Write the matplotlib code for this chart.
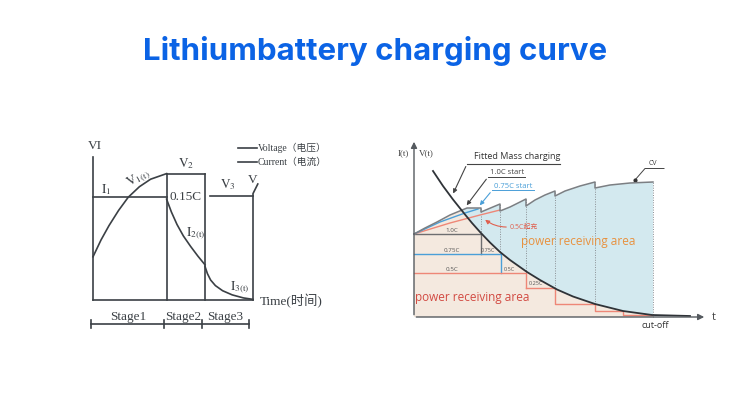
import matplotlib
matplotlib.use("Agg")
import matplotlib.pyplot as plt
from matplotlib.patches import Polygon

plt.rcParams["mathtext.fontset"] = "stix"

# ========= DATA =========
TITLE = "Lithiumbattery charging curve"

# left diagram: three stage CC / CV charging (time units, level units)
stage_ends = [0.0, 4.6, 7.0, 10.0]
i1_level = 6.45
v2_level = 7.9
v3_level = 6.5
v3_start = 7.3
v1_t = [0, 0.5, 1.0, 1.6, 2.2, 2.9, 3.6, 4.6]
v1_v = [2.7, 3.75, 4.65, 5.6, 6.42, 7.08, 7.55, 7.9]
i2_t = [4.6, 4.9, 5.25, 5.65, 6.1, 6.55, 7.0]
i2_v = [6.3, 5.5, 4.72, 4.0, 3.35, 2.75, 2.2]
i3_t = [7.0, 7.15, 7.35, 7.65, 8.1, 8.7, 9.4, 10.0]
i3_v = [2.1, 1.65, 1.25, 0.9, 0.58, 0.32, 0.13, 0.04]
stage_names = ["Stage1", "Stage2", "Stage3"]
bracket_ticks = [-0.1, 4.45, 6.8, 9.75]

# right diagram: multi-rate charging
fit_t = [1.9, 2.9, 3.9, 4.5, 5.1, 5.8, 6.6, 7.6, 8.6, 9.6, 11.3, 12.6, 14.3, 15.9, 18.1, 20.9, 23.8, 27.6]
fit_v = [14.6, 13.1, 11.75, 11.0, 10.25, 9.4, 8.5, 7.45, 6.5, 5.7, 4.5, 3.7, 2.75, 2.05, 1.3, 0.6, 0.2, 0.1]
cv_t = [0, 1.1, 2.3, 3.6, 5.3, 6.7, 6.7, 8.6, 8.6, 9.6, 10.6, 11.2, 11.2, 12.1, 13.1,
        14.1, 14.1, 15.1, 16.6, 18.1, 18.1, 19.6, 21.6, 23.9]
cv_v = [8.3, 8.9, 9.5, 10.2, 10.9, 10.9, 10.5, 11.3, 10.6, 11.0, 11.5, 11.8, 11.1, 11.7, 12.2,
        12.6, 12.1, 12.6, 13.1, 13.5, 12.9, 13.2, 13.4, 13.5]
blue_start_t = [0, 2.6, 5.1, 6.4]
blue_start_v = [8.3, 9.5, 10.4, 10.8]
red_start_t = [0, 3.6, 6.6, 8.6]
red_start_v = [8.3, 9.4, 10.2, 10.7]
rate_names = ["1.0C", "0.75C", "0.5C"]
rate_levels = [8.3, 6.3, 4.4]
rate_ends = [6.7, 8.7, 11.2]
tail_t = [11.2, 14.1, 18.1, 20.9, 23.8]
tail_v = [2.9, 1.3, 0.6, 0.2]
dot_t = [6.7, 8.6, 11.2, 14.1, 18.1, 23.9]
dot_top = [10.9, 11.3, 11.8, 12.6, 13.5, 13.5]
dot_bottom = [8.3, 6.3, 4.4, 2.9, 1.3, 0.0]
# ========================

INK = "#3b4045"
GRAY = "#6d6e70"
BLUE = "#4a9fd8"
RED = "#ee8777"
SERIF = ["Liberation Serif", "Noto Sans CJK SC"]
SANS = ["Open Sans", "Noto Sans CJK SC"]
PANEL = "#f8f9fa"

W, H = 750, 397
fig = plt.figure(figsize=(7.5, 3.97), dpi=100)
fig.patch.set_facecolor("white")


def box(x0, y0, x1, y1):
    # pixel box (image coords) -> figure fraction
    return [x0 / W, 1 - y1 / H, (x1 - x0) / W, (y1 - y0) / H]


fig.text(0.5, 1 - 60 / H, TITLE, ha="center", va="baseline", fontsize=22.5,
         fontweight="bold", color="#0b63e5", family="Inter")

# ---------- left panel ----------
ax = fig.add_axes(box(47, 121, 337, 355))
ax.set_facecolor(PANEL)
ax.set_xlim(-2.875, 15.25)
ax.set_ylim(-3.4375, 11.1875)
ax.axis("off")
ax.patch.set_visible(True)

lw = 1.2
ax.plot([0, 0], [0, 8.95], color=INK, lw=lw)
ax.plot([0, stage_ends[-1]], [0, 0], color=INK, lw=lw)
ax.plot([0, stage_ends[1]], [i1_level, i1_level], color=INK, lw=lw)
ax.plot(v1_t, v1_v, color=INK, lw=lw)
ax.plot([stage_ends[1], stage_ends[1]], [0, v2_level], color=INK, lw=lw)
ax.plot([stage_ends[2], stage_ends[2]], [0, v2_level], color=INK, lw=lw)
ax.plot([stage_ends[1], stage_ends[2]], [v2_level, v2_level], color=INK, lw=lw)
ax.plot(i2_t, i2_v, color=INK, lw=lw)
ax.plot(i3_t, i3_v, color=INK, lw=lw)
ax.plot([v3_start, stage_ends[3]], [v3_level, v3_level], color=INK, lw=lw)
ax.plot([stage_ends[3], stage_ends[3], stage_ends[3] + 0.3], [0, v3_level + 0.15, v3_level + 0.75],
        color=INK, lw=lw)

# legend
ax.plot([9.05, 10.25], [9.5, 9.5], color=INK, lw=lw)
ax.plot([9.05, 10.25], [8.62, 8.62], color=INK, lw=lw)
ax.text(10.3, 9.5, "Voltage（电压）", va="center", fontsize=7, color=INK, family=SERIF)
ax.text(10.3, 8.62, "Current（电流）", va="center", fontsize=7, color=INK, family=SERIF)

tk = dict(color=INK, family=SERIF, fontsize=9.5)
ax.text(0.1, 9.6, "VI", ha="center", va="center", **tk)
ax.text(5.8, 8.55, r"$\mathrm{V_2}$", ha="center", va="center", **tk)
ax.text(0.85, 6.9, r"$\mathrm{I_1}$", ha="center", va="center", **tk)
ax.text(2.8, 7.6, r"$\mathrm{V_{1(t)}}$", ha="center", va="center", rotation=28, **tk)
ax.text(5.8, 6.42, "0.15C", ha="center", va="center", **tk)
ax.text(6.4, 4.2, r"$\mathrm{I_{2(t)}}$", ha="center", va="center", **tk)
ax.text(8.45, 7.2, r"$\mathrm{V_3}$", ha="center", va="center", **tk)
ax.text(9.95, 7.5, "V", ha="center", va="center", **tk)
ax.text(9.2, 0.78, r"$\mathrm{I_{3(t)}}$", ha="center", va="center", **tk)
ax.text(10.4, -0.05, "Time(时间)", ha="left", va="center", **tk)

# stage bracket
ax.plot([bracket_ticks[0], bracket_ticks[-1]], [-1.5, -1.5], color=INK, lw=lw)
for bt in bracket_ticks:
    ax.plot([bt, bt], [-1.75, -1.25], color=INK, lw=lw)
for k, name in enumerate(stage_names):
    ax.text((bracket_ticks[k] + bracket_ticks[k + 1]) / 2, -1.05, name,
            ha="center", va="center", **tk)

# ---------- right panel ----------
bx = fig.add_axes(box(392, 110, 720, 333))
bx.set_facecolor(PANEL)
bx.set_xlim(-2.2, 30.6)
bx.set_ylim(-1.6, 20.7)
bx.axis("off")
bx.patch.set_visible(True)

cv_poly = Polygon(list(zip(cv_t, cv_v)) + [(cv_t[-1], 0), (0, 0)], closed=True,
                  facecolor="#d3e9ef", edgecolor="none", zorder=1)
bx.add_patch(cv_poly)
low = Polygon([(0, 0), (0, fit_v[0])] + list(zip(fit_t, fit_v)) + [(fit_t[-1], 0)],
              closed=True, facecolor="#f4e9df", edgecolor="none", zorder=1.5)
bx.add_patch(low)
low.set_clip_path(cv_poly)

for t, top, bot in zip(dot_t, dot_top, dot_bottom):
    bx.plot([t, t], [bot, top], color="#8a8f94", lw=0.7, ls=(0, (1, 1.5)), zorder=2)

step_colors = [GRAY, BLUE, RED]
next_levels = rate_levels[1:] + [tail_v[0]]
for name, lev, end, nxt, c in zip(rate_names, rate_levels, rate_ends, next_levels, step_colors):
    bx.plot([0, end, end], [lev, lev, nxt], color=c, lw=1.0, zorder=3)
    bx.text(3.8, lev + 0.35, name, ha="center", va="center", fontsize=4.5, color="#555555",
            family=SANS)
tx, ty = [], []
for k in range(len(tail_v)):
    tx += [tail_t[k], tail_t[k + 1]]
    ty += [tail_v[k], tail_v[k]]
    if k + 1 < len(tail_v):
        tx.append(tail_t[k + 1])
        ty.append(tail_v[k + 1])
bx.plot(tx, ty, color=RED, lw=1.0, zorder=3)

bx.text(7.4, 6.6, "0.75C", ha="center", va="center", fontsize=4, color="#555555", family=SANS)
bx.text(9.5, 4.75, "0.5C", ha="center", va="center", fontsize=4, color="#555555", family=SANS)
bx.text(12.2, 3.35, "0.25C", ha="center", va="center", fontsize=4, color="#555555", family=SANS)

bx.plot(red_start_t, red_start_v, color=RED, lw=1.0, zorder=3)
bx.plot(blue_start_t, blue_start_v, color=BLUE, lw=1.0, zorder=3)
bx.plot(cv_t, cv_v, color="#7c7f83", lw=1.1, zorder=4)
bx.plot(fit_t, fit_v, color="#2f3338", lw=1.3, zorder=5)

# axes with arrows
arr = dict(arrowstyle="-|>", color="#555a5f", lw=1.0, mutation_scale=9)
bx.annotate("", xy=(0, 17.8), xytext=(0, -0.05), arrowprops=arr, zorder=6)
bx.annotate("", xy=(29.3, 0), xytext=(-0.05, 0), arrowprops=arr, zorder=6)
bx.text(29.8, -0.05, "t", ha="left", va="center", fontsize=8, color="#444444", family=SANS)
bx.text(-1.1, 16.4, "I(t)", ha="center", va="center", fontsize=6.5, color="#444444", family=SERIF)
bx.text(1.2, 16.4, "V(t)", ha="center", va="center", fontsize=6.5, color="#444444", family=SERIF)
bx.text(24.1, -0.85, "cut-off", ha="center", va="center", fontsize=6.5, color="#333333", family=SANS)

# callouts
callout = dict(arrowstyle="-|>", color="#444444", lw=0.8, mutation_scale=6)
bx.text(10.3, 16.05, "Fitted Mass charging", ha="center", va="center", fontsize=6.5,
        color="#333333", family=SANS)
bx.plot([5.3, 14.6], [15.3, 15.3], color="#444444", lw=0.8)
bx.annotate("", xy=(3.8, 12.1), xytext=(5.3, 15.3), arrowprops=callout)

bx.text(9.3, 14.45, "1.0C start", ha="center", va="center", fontsize=5.5, color="#444444", family=SANS)
bx.plot([7.4, 11.1], [14.0, 14.0], color="#444444", lw=0.7)
bx.annotate("", xy=(5.1, 10.95), xytext=(7.4, 14.0), arrowprops=callout)

bx.text(9.9, 13.05, "0.75C start", ha="center", va="center", fontsize=5.5, color=BLUE, family=SANS)
bx.plot([7.8, 12.0], [12.65, 12.65], color=BLUE, lw=0.7)
bx.annotate("", xy=(6.4, 10.95), xytext=(7.8, 12.65),
            arrowprops=dict(callout, color=BLUE))

bx.text(9.6, 9.0, "0.5C起充", ha="left", va="center", fontsize=5, color="#e0604f", family=SANS)
bx.annotate("", xy=(6.9, 9.9), xytext=(9.5, 9.0),
            arrowprops=dict(callout, color="#e0604f", connectionstyle="arc3,rad=-0.2"))

bx.text(23.9, 15.35, "CV", ha="center", va="center", fontsize=5, color="#444444", family=SANS)
bx.plot([25.0, 23.1, 22.1], [14.85, 14.85, 13.7], color="#444444", lw=0.7)
bx.plot([22.1], [13.7], "o", color="#333333", ms=2)

bx.text(16.4, 7.5, "power receiving area", ha="center", va="center", fontsize=8.5,
        color="#e8913e", family=SANS, zorder=7)
bx.text(5.8, 1.9, "power receiving area", ha="center", va="center", fontsize=8.5,
        color="#d24a42", family=SANS, zorder=7)

plt.savefig("out.png", dpi=100, facecolor="white")
